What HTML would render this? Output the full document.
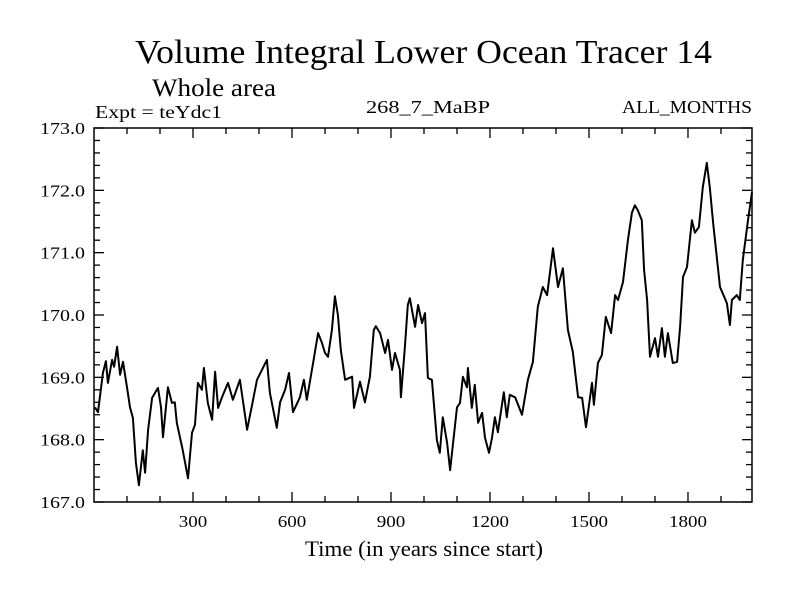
<!DOCTYPE html>
<html><head><meta charset="utf-8"><style>
body{margin:0;background:#fff}
svg{display:block;font-family:"Liberation Serif",serif}
</style></head><body>
<svg id="chart" width="800" height="600" viewBox="0 0 800 600">
<text x="135" y="63" font-size="34" textLength="577" lengthAdjust="spacingAndGlyphs">Volume Integral Lower Ocean Tracer 14</text>
<text x="152" y="96" font-size="25" textLength="124" lengthAdjust="spacingAndGlyphs">Whole area</text>
<text x="95" y="118" font-size="18" textLength="127" lengthAdjust="spacingAndGlyphs">Expt = teYdc1</text>
<text x="366" y="113" font-size="18" textLength="124" lengthAdjust="spacingAndGlyphs">268_7_MaBP</text>
<text x="622" y="113" font-size="18" textLength="130" lengthAdjust="spacingAndGlyphs">ALL_MONTHS</text>
<text x="305" y="556" font-size="22" textLength="238" lengthAdjust="spacingAndGlyphs">Time (in years since start)</text>
<rect x="94" y="128" width="658" height="374" fill="none" stroke="#000" stroke-width="1.5"/>
<g id="axes"></g>
<path id="series" fill="none" stroke="#000" stroke-width="2" stroke-linejoin="round"/>
</svg>
<script>
const years=[3,12,27,36,42,55,61,70,79,88,100,109,118,127,136,148,155,164,176,185,194,203,209,224,236,245,251,267,276,285,297,306,315,327,333,345,358,367,376,388,406,421,442,464,479,494,524,533,554,564,579,591,603,624,636,645,664,679,691,700,709,721,730,739,748,761,782,788,806,821,836,848,854,867,882,891,903,912,927,930,942,951,957,973,982,994,1003,1012,1024,1039,1048,1057,1070,1079,1100,1109,1118,1130,1133,1145,1154,1164,1176,1185,1197,1206,1215,1224,1242,1251,1260,1276,1297,1315,1330,1345,1360,1373,1391,1406,1421,1436,1451,1467,1479,1491,1509,1515,1527,1539,1551,1567,1579,1588,1603,1618,1630,1639,1648,1660,1667,1676,1685,1700,1709,1721,1730,1739,1754,1767,1776,1785,1797,1812,1821,1833,1845,1857,1866,1876,1897,1918,1927,1933,1948,1957,1966,1982,1994];
const values=[168.52,168.44,169.07,169.26,168.91,169.28,169.17,169.49,169.04,169.25,168.84,168.52,168.35,167.63,167.27,167.83,167.47,168.16,168.67,168.75,168.83,168.52,168.04,168.84,168.59,168.60,168.27,167.88,167.63,167.38,168.11,168.24,168.91,168.80,169.15,168.59,168.32,169.09,168.51,168.68,168.91,168.64,168.96,168.16,168.56,168.96,169.28,168.75,168.19,168.60,168.80,169.07,168.44,168.68,168.96,168.64,169.23,169.71,169.55,169.39,169.33,169.76,170.30,170.00,169.44,168.96,169.01,168.51,168.93,168.60,169.01,169.76,169.82,169.71,169.39,169.60,169.12,169.39,169.12,168.68,169.49,170.16,170.27,169.81,170.16,169.87,170.03,168.99,168.96,167.99,167.79,168.36,167.95,167.51,168.52,168.59,169.01,168.84,169.15,168.51,168.88,168.27,168.43,168.03,167.79,168.03,168.36,168.12,168.76,168.36,168.72,168.68,168.40,168.96,169.25,170.13,170.45,170.32,171.07,170.45,170.75,169.76,169.41,168.68,168.67,168.20,168.91,168.56,169.23,169.36,169.97,169.71,170.32,170.24,170.53,171.20,171.64,171.76,171.68,171.52,170.72,170.24,169.33,169.63,169.33,169.79,169.33,169.71,169.23,169.25,169.81,170.61,170.77,171.52,171.32,171.41,172.05,172.44,172.05,171.48,170.45,170.19,169.84,170.24,170.32,170.24,170.88,171.52,171.97];
const xTickLabels=[300,600,900,1200,1500,1800];
const yTickLabels=["167.0","168.0","169.0","170.0","171.0","172.0","173.0"];
const X0=94,X1=752,Y0=502,Y1=128,xMin=0,xMax=1994,yMin=167,yMax=173;
const xs=v=>X0+(v-xMin)/(xMax-xMin)*(X1-X0);
const ys=v=>Y0-(v-yMin)/(yMax-yMin)*(Y0-Y1);
const ns="http://www.w3.org/2000/svg";
const axes=document.getElementById('axes');
function line(x1,y1,x2,y2,name){const l=document.createElementNS(ns,'line');
l.setAttribute('x1',x1);l.setAttribute('y1',y1);l.setAttribute('x2',x2);l.setAttribute('y2',y2);l.setAttribute('stroke','#000');l.setAttribute('stroke-width','1.3');


axes.appendChild(l);}
function txt(x,y,s,anchor,len,name){const t=document.createElementNS(ns,'text');
t.setAttribute('x',x);t.setAttribute('y',y);t.setAttribute('font-size','17');t.setAttribute('text-anchor',anchor);
t.setAttribute('textLength',len);t.setAttribute('lengthAdjust','spacingAndGlyphs');t.textContent=s;


axes.appendChild(t);}
for(let v=100;v<=1900;v+=100){const x=xs(v);const major=v%300===0;const L=major?10:6;
line(x,Y0,x,Y0-L,'x-tick');line(x,Y1,x,Y1+L,'x-tick-top');}
xTickLabels.forEach(v=>txt(xs(v),527,String(v),'middle',String(v).length*9.5,'x-tick-label'));
for(let i=0;i<=30;i++){const v=yMin+i*0.2;const y=ys(v);const major=i%5===0;const L=major?10:6;
line(X0,y,X0+L,y,'y-tick');line(X1,y,X1-L,y,'y-tick-right');}
yTickLabels.forEach(s=>txt(85,ys(parseFloat(s))+6,s,'end',45,'y-tick-label'));
document.getElementById('series').setAttribute('d',years.map((y,i)=>(i?'L':'M')+xs(y).toFixed(1)+','+ys(values[i]).toFixed(1)).join(''));
</script>
</body></html>
